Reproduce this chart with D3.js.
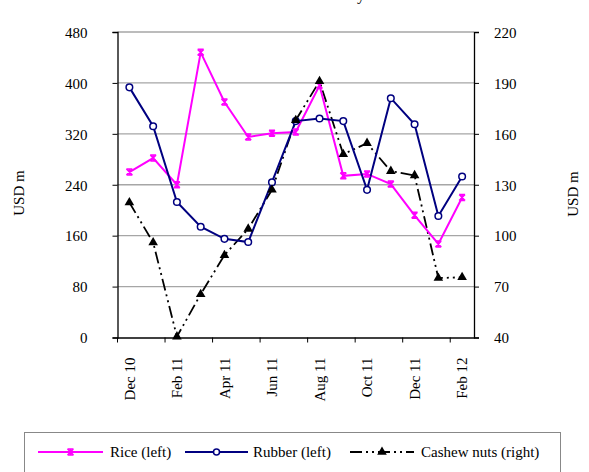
<!DOCTYPE html>
<html><head><meta charset="utf-8">
<script src="https://cdn.jsdelivr.net/npm/d3@7"></script>
<style>body{margin:0;background:#fff}svg{display:block}svg text{font-family:'Liberation Serif','DejaVu Serif',serif !important}</style>
</head><body>
<script>
const months = ["Dec 10","Jan 11","Feb 11","Mar 11","Apr 11","May 11","Jun 11","Jul 11","Aug 11","Sep 11","Oct 11","Nov 11","Dec 11","Jan 12","Feb 12"];
const rice = [260,282,240,448,370,315,321,323,396,254,257,241,192,147,220];
const rubber = [393,332,213,174,155,150,244,340,344,340,232,376,335,191,253];
const cashew = [119.5,96,40.5,65.5,88.5,104,127,168,191,148,154.5,138,135.5,75,75.5];
const leftTicks = [0,80,160,240,320,400,480];
const rightTicks = [40,70,100,130,160,190,220];
const labelMonths = ["Dec 10","Feb 11","Apr 11","Jun 11","Aug 11","Oct 11","Dec 11","Feb 12"];

const W=589,H=472;
const L=117.5,R=474,T=32,B=337.5;
const FONT="'Liberation Serif','DejaVu Serif',serif";
const svg=d3.select("body").append("svg").attr("width",W).attr("height",H).attr("font-family",FONT);

const x=d3.scaleBand().domain(months).range([L,R]).padding(0);
const yL=d3.scaleLinear().domain([0,480]).range([B,T]);
const yR=d3.scaleLinear().domain([40,220]).range([B,T]);
const cx=d=>x(d)+x.bandwidth()/2;

// title fragment (cut off at top, as in the reference)
svg.append("text").attr("x",365).attr("y",0).attr("text-anchor","end").attr("font-size",16).text("Monthly");

// gridlines
svg.append("g").selectAll("line").data(leftTicks.filter(v=>v>0)).join("line")
  .attr("x1",L).attr("x2",R).attr("y1",d=>yL(d)).attr("y2",d=>yL(d))
  .attr("stroke","#a6a6a6").attr("stroke-width",1.3);

// left axis
const gl=svg.append("g").attr("transform",`translate(${L},0)`)
  .call(d3.axisLeft(yL).tickValues(leftTicks).tickSize(5).tickPadding(25).tickFormat(d3.format("d")));
gl.attr("font-family",FONT);
gl.select(".domain").attr("stroke","#000").attr("stroke-width",1.3);
gl.selectAll("text").attr("font-size",15).attr("fill","#000").attr("dy","0.35em");
gl.selectAll(".tick line").attr("stroke","#000");

// right axis
const gr=svg.append("g").attr("transform",`translate(${R},0)`)
  .call(d3.axisRight(yR).tickValues(rightTicks).tickSize(5).tickPadding(15).tickFormat(d3.format("d")));
gr.attr("font-family",FONT);
gr.select(".domain").attr("stroke","#000").attr("stroke-width",1.3);
gr.selectAll("text").attr("font-size",15).attr("fill","#000").attr("dy","0.35em");
gr.selectAll(".tick line").attr("stroke","#000");

// bottom axis: labels centered, ticks every two categories at boundaries
const gb=svg.append("g").attr("transform",`translate(0,${B})`)
  .call(d3.axisBottom(x).tickValues(labelMonths).tickSize(0).tickPadding(0));
gb.attr("font-family",FONT);
gb.select(".domain").attr("stroke","#000").attr("stroke-width",1.3);
gb.selectAll("text").attr("font-size",15).attr("fill","#000")
  .attr("transform","rotate(-90)").attr("text-anchor","end")
  .attr("x",-20).attr("y",0).attr("dy","0.35em");
const tickIdx=d3.range(0,months.length+1,2);
svg.append("g").selectAll("line").data(tickIdx).join("line")
  .attr("x1",i=>L+i*x.step()).attr("x2",i=>L+i*x.step())
  .attr("y1",B).attr("y2",B+5).attr("stroke","#000");

// axis titles
svg.append("text").attr("transform",`translate(24,193) rotate(-90)`).attr("text-anchor","middle").attr("font-size",15).text("USD m");
svg.append("text").attr("transform",`translate(578,194) rotate(-90)`).attr("text-anchor","middle").attr("font-size",15).text("USD m");

const clr={rice:"#ff00ff",rubber:"#000080",cashew:"#000"};
const dash="12,4,2,4,2,4";

// cashew line
const lineR=d3.line().x((d,i)=>cx(months[i])).y(d=>yR(d));
svg.append("path").attr("d",lineR(cashew)).attr("fill","none").attr("stroke",clr.cashew).attr("stroke-width",1.8).attr("stroke-dasharray",dash);
// rice
const lineL=d3.line().x((d,i)=>cx(months[i])).y(d=>yL(d));
svg.append("path").attr("d",lineL(rice)).attr("fill","none").attr("stroke",clr.rice).attr("stroke-width",2);
// rubber
svg.append("path").attr("d",lineL(rubber)).attr("fill","none").attr("stroke",clr.rubber).attr("stroke-width",2);

const starPath="M-3,-3L3,3M3,-3L-3,3M-3,-3H3M-3,3H3M0,-3V3";
const triPath=d3.symbol(d3.symbolTriangle,40)();

svg.append("g").selectAll("path").data(rice).join("path")
  .attr("transform",(d,i)=>`translate(${cx(months[i])},${yL(d)})`)
  .attr("d",starPath).attr("stroke",clr.rice).attr("stroke-width",1.5).attr("fill","none");
svg.append("g").selectAll("circle").data(rubber).join("circle")
  .attr("cx",(d,i)=>cx(months[i])).attr("cy",d=>yL(d)).attr("r",3.3)
  .attr("fill","#fff").attr("stroke",clr.rubber).attr("stroke-width",1.5);
svg.append("g").selectAll("path").data(cashew).join("path")
  .attr("transform",(d,i)=>`translate(${cx(months[i])},${yR(d)})`)
  .attr("d",triPath).attr("fill",clr.cashew);

// legend
svg.append("rect").attr("x",24.5).attr("y",432.5).attr("width",536).attr("height",50)
  .attr("fill","#fff").attr("stroke","#888").attr("stroke-width",1);
const ly=452;
const leg=[
  {name:"Rice (left)",x1:38,x2:103,tx:110,kind:"rice"},
  {name:"Rubber (left)",x1:185,x2:248,tx:253,kind:"rubber"},
  {name:"Cashew nuts (right)",x1:350,x2:414,tx:421,kind:"cashew"}
];
leg.forEach(l=>{
  const g=svg.append("g");
  g.append("line").attr("x1",l.x1).attr("x2",l.x2).attr("y1",ly).attr("y2",ly)
    .attr("stroke",clr[l.kind]).attr("stroke-width",2)
    .attr("stroke-dasharray",l.kind==="cashew"?dash:null);
  const mx=(l.x1+l.x2)/2;
  if(l.kind==="rice") g.append("path").attr("transform",`translate(${mx},${ly})`).attr("d",starPath).attr("stroke",clr.rice).attr("stroke-width",1.5).attr("fill","none");
  if(l.kind==="rubber") g.append("circle").attr("cx",mx).attr("cy",ly).attr("r",3).attr("fill","#fff").attr("stroke",clr.rubber).attr("stroke-width",1.5);
  if(l.kind==="cashew") g.append("path").attr("transform",`translate(${mx},${ly})`).attr("d",triPath).attr("fill","#000");
  g.append("text").attr("x",l.tx).attr("y",ly).attr("dy","0.35em").attr("font-size",15).text(l.name);
});
</script>
</body></html>
